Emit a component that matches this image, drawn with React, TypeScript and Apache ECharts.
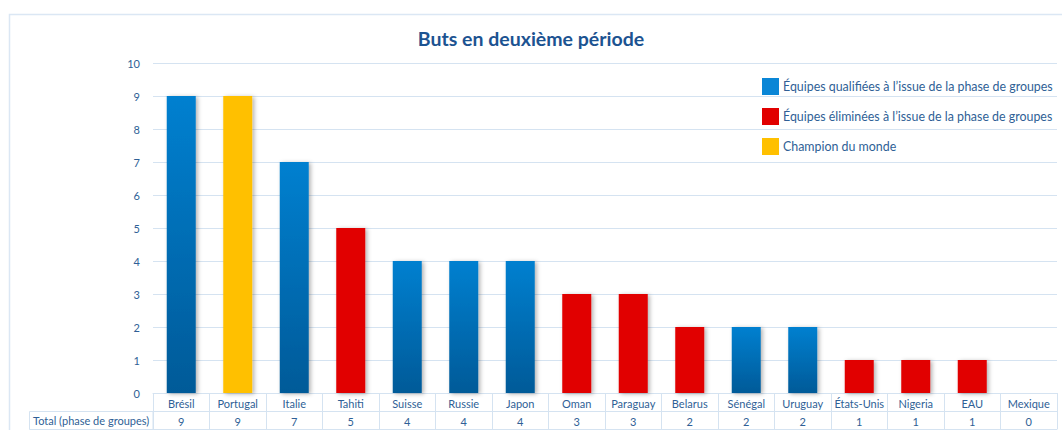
import React, { useEffect, useRef } from "react";
import * as echarts from "echarts";

const categories = ["Brésil", "Portugal", "Italie", "Tahiti", "Suisse", "Russie", "Japon", "Oman", "Paraguay", "Belarus", "Sénégal", "Uruguay", "États-Unis", "Nigeria", "EAU", "Mexique"];
const goals = [9, 9, 7, 5, 4, 4, 4, 3, 3, 2, 2, 2, 1, 1, 1, 0];
const groups = ["q", "c", "q", "e", "q", "q", "q", "e", "e", "e", "q", "q", "e", "e", "e", "q"];
const seriesNames = [
  "Équipes qualifiées à l’issue de la phase de groupes",
  "Équipes éliminées à l’issue de la phase de groupes",
  "Champion du monde",
];
const seriesKeys = ["q", "e", "c"];
const yTicks = { min: 0, max: 10, interval: 1 };
const totalLabel = "Total (phase de groupes)";

const LINE = "#d5e3f1";
const TEXT = "#2f5f96";
const FONT = "Lato, 'Open Sans', sans-serif";

export default function App() {
  const ref = useRef<HTMLDivElement>(null);
  useEffect(() => {
    if (!ref.current) return;
    const chart = echarts.init(ref.current, undefined, { renderer: "svg" });
    const blue = new echarts.graphic.LinearGradient(0, 0, 0, 1, [
      { offset: 0, color: "#0480d0" },
      { offset: 1, color: "#005a98" },
    ]);
    const colors = [blue, "#e10000", "#ffc000"];
    const legendColors = ["#0a86d6", "#e10000", "#ffc000"];
    const series = seriesKeys.map((k, i) => ({
      name: seriesNames[i],
      type: "bar",
      stack: "all",
      barWidth: 29,
      data: goals.map((v, j) => (groups[j] === k ? v : "-")),
      itemStyle: {
        color: colors[i],
        shadowColor: "rgba(0,0,0,0.3)",
        shadowBlur: 4,
        shadowOffsetX: 2,
        shadowOffsetY: 1,
      },
      emphasis: { disabled: true },
    }));
    chart.setOption({
      animation: false,
      textStyle: { fontFamily: FONT },
      title: {
        text: "Buts en deuxième période",
        left: "center",
        top: 23,
        textStyle: { color: "#1c5391", fontSize: 19.5, fontWeight: "bold", fontFamily: FONT },
      },
      legend: {
        orient: "vertical",
        left: 762,
        top: 78,
        padding: 0,
        itemWidth: 17,
        itemHeight: 17,
        itemGap: 13,
        icon: "rect",
        data: seriesNames.map((n, i) => ({ name: n, itemStyle: { color: legendColors[i], shadowBlur: 0 } })),
        textStyle: { color: TEXT, fontSize: 12.4, fontFamily: FONT, padding: [0, 0, 0, -1] },
        selectedMode: false,
      },
      grid: { left: 153, right: 5, top: 63, bottom: 37 },
      xAxis: [
        {
          type: "category",
          data: categories,
          position: "bottom",
          axisLine: { lineStyle: { color: LINE } },
          axisTick: { show: true, length: 36, lineStyle: { color: LINE } },
          axisLabel: { color: TEXT, fontSize: 11, margin: 5, interval: 0, fontFamily: FONT },
        },
        {
          type: "category",
          data: goals.map((v) => String(v)),
          position: "bottom",
          offset: 18,
          axisLine: { lineStyle: { color: LINE } },
          axisTick: { show: false },
          axisLabel: { color: TEXT, fontSize: 11, margin: 5, interval: 0, fontFamily: FONT },
        },
        {
          type: "category",
          data: categories,
          position: "bottom",
          offset: 36,
          axisLine: { lineStyle: { color: LINE } },
          axisTick: { show: false },
          axisLabel: { show: false },
        },
      ],
      yAxis: {
        type: "value",
        min: yTicks.min,
        max: yTicks.max,
        interval: yTicks.interval,
        axisLine: { show: false },
        axisTick: { show: false },
        axisLabel: { color: TEXT, fontSize: 11, margin: 13, fontFamily: FONT },
        splitLine: { lineStyle: { color: LINE } },
      },
      graphic: [
        {
          type: "rect",
          left: 7,
          top: 12,
          shape: { x: 0, y: 0, width: 1060, height: 430 },
          style: { fill: "none", stroke: "#dbe7f4", lineWidth: 1.5 },
          silent: true,
        },
        {
          type: "rect",
          shape: { x: 29.5, y: 411.5, width: 123.5, height: 18 },
          style: { fill: "none", stroke: LINE, lineWidth: 1 },
          silent: true,
        },
        {
          type: "text",
          x: 33,
          y: 420.5,
          style: { text: totalLabel, fill: TEXT, fontSize: 11, fontFamily: FONT, verticalAlign: "middle" },
          silent: true,
        },
      ],
      series,
    });
    return () => chart.dispose();
  }, []);
  return (
    <div
      ref={ref}
      style={{ position: "absolute", left: 0, top: 0, width: 1062, height: 430, background: "#fff" }}
    />
  );
}
